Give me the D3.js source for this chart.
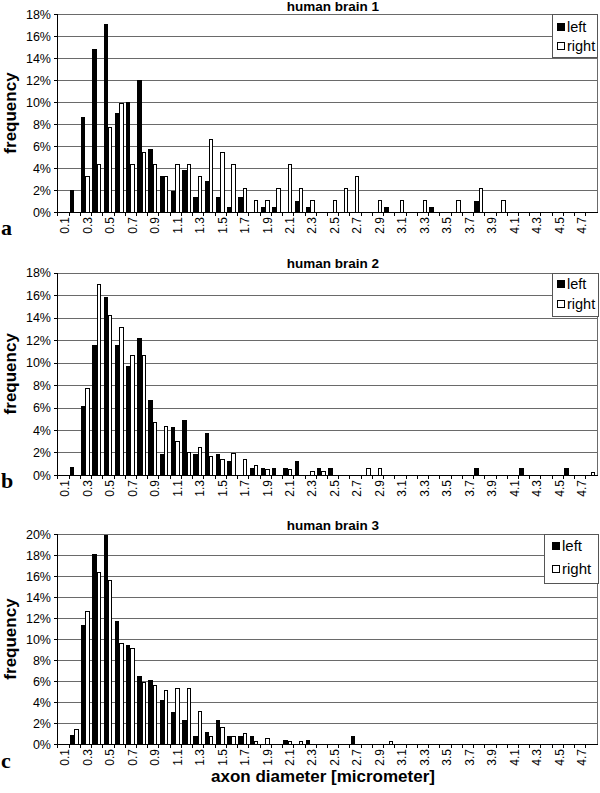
<!DOCTYPE html>
<html>
<head>
<meta charset="utf-8">
<title>Axon diameter histograms - human brain 1-3</title>
<script src="https://d3js.org/d3.v7.min.js"></script>
<style>
  body { margin: 0; background: #fff; }
  svg text { font-family: "Liberation Sans", Arial, sans-serif; fill: #000; }
</style>
</head>
<body>
<div id="chart"></div>
<script>
// x categories (axon diameter, micrometer)
var categories = ["0.1","0.2","0.3","0.4","0.5","0.6","0.7","0.8","0.9","1.0",
                  "1.1","1.2","1.3","1.4","1.5","1.6","1.7","1.8","1.9","2.0",
                  "2.1","2.2","2.3","2.4","2.5","2.6","2.7","2.8","2.9","3.0",
                  "3.1","3.2","3.3","3.4","3.5","3.6","3.7","3.8","3.9","4.0",
                  "4.1","4.2","4.3","4.4","4.5","4.6","4.7","4.8"];
var tickLabels = ["0.1","0.3","0.5","0.7","0.9","1.1","1.3","1.5","1.7","1.9","2.1","2.3",
                  "2.5","2.7","2.9","3.1","3.3","3.5","3.7","3.9","4.1","4.3","4.5","4.7"];
var seriesNames = ["left", "right"];
var titles = ["human brain 1", "human brain 2", "human brain 3"];
var letters = ["a", "b", "c"];

// frequency in %
var brain1Left  = [0, 2.0, 8.6, 14.8, 17.1, 9.0, 10.0, 12.0, 5.7, 3.3,
                   1.95, 3.8, 1.4, 2.85, 1.4, 0.45, 1.4, 0, 0.45, 0.45,
                   0, 1.0, 0.45, 0, 0, 0, 0, 0, 0, 0.45,
                   0, 0, 0, 0.45, 0, 0, 0, 1.0, 0, 0,
                   0, 0, 0, 0, 0, 0, 0, 0];
var brain1Right = [0, 0, 3.3, 4.4, 7.7, 9.9, 4.4, 5.5, 4.4, 3.3,
                   4.4, 4.4, 3.3, 6.6, 5.5, 4.4, 2.2, 1.1, 1.1, 2.2,
                   4.4, 2.2, 1.1, 0, 1.1, 2.2, 3.3, 0, 1.1, 0,
                   1.1, 0, 1.1, 0, 0, 1.1, 0, 2.2, 0, 1.1,
                   0, 0, 0, 0, 0, 0, 0, 0];
var brain2Left  = [0, 0.7, 6.1, 11.6, 15.8, 11.6, 9.7, 12.2, 6.7, 1.85,
                   4.3, 4.9, 1.85, 3.7, 1.85, 1.25, 0, 0.65, 0.65, 0.65,
                   0.65, 1.25, 0, 0.65, 0.65, 0, 0, 0, 0, 0,
                   0, 0, 0, 0, 0, 0, 0, 0.65, 0, 0,
                   0, 0.65, 0, 0, 0, 0.65, 0, 0];
var brain2Right = [0, 0, 7.7, 17.0, 14.25, 13.2, 10.7, 10.7, 4.7, 4.4,
                   3.05, 2.0, 2.5, 1.7, 1.4, 1.95, 1.4, 0.85, 0.55, 0,
                   0.55, 0, 0.35, 0.35, 0, 0, 0, 0.6, 0.6, 0,
                   0, 0, 0, 0, 0, 0, 0, 0, 0, 0,
                   0, 0, 0, 0, 0, 0, 0, 0.3];
var brain3Left  = [0, 0.85, 11.3, 18.1, 19.9, 11.7, 9.45, 6.45, 6.05, 4.2,
                   3.05, 2.25, 0.8, 1.15, 2.25, 0.8, 0.8, 0.8, 0, 0,
                   0.4, 0, 0.4, 0, 0, 0, 0.8, 0, 0, 0,
                   0, 0, 0, 0, 0, 0, 0, 0, 0, 0,
                   0, 0, 0, 0, 0, 0, 0, 0];
var brain3Right = [0, 1.45, 12.7, 16.4, 15.6, 9.6, 9.1, 5.9, 5.65, 5.1,
                   5.3, 5.3, 3.15, 0.8, 1.6, 0.8, 1.05, 0.25, 0.55, 0,
                   0.25, 0.3, 0, 0, 0, 0, 0, 0, 0, 0.3,
                   0, 0, 0, 0, 0, 0, 0, 0, 0, 0,
                   0, 0, 0, 0, 0, 0, 0, 0];
var yTicks12 = [0, 2, 4, 6, 8, 10, 12, 14, 16, 18];
var yTicks3  = [0, 2, 4, 6, 8, 10, 12, 14, 16, 18, 20];

var plotLeft = 57, plotRight = 597;

// layout of each panel (pixels)
var panels = [
  { left: brain1Left, right: brain1Right, ticks: yTicks12, top: 14, bottom: 212,
    titleY: 11, letterY: 235,
    legend: { x: 552, y: 14, w: 45, h: 43, rows: [27, 46], mx: 557, fs: 14.5 } },
  { left: brain2Left, right: brain2Right, ticks: yTicks12, top: 272.5, bottom: 475,
    titleY: 268, letterY: 488,
    legend: { x: 552, y: 272.5, w: 46, h: 43.5, rows: [284, 304], mx: 557, fs: 14.5 } },
  { left: brain3Left, right: brain3Right, ticks: yTicks3, top: 534, bottom: 744,
    titleY: 530, letterY: 768,
    legend: { x: 544, y: 534, w: 54, h: 49, rows: [545.5, 569], mx: 552, fs: 15 } }
];

var svg = d3.select("#chart").append("svg")
    .attr("width", 600)
    .attr("height", 793);

var x = d3.scaleBand()
    .domain(categories)
    .range([plotLeft, plotRight])
    .paddingInner(0.22)
    .paddingOuter(0.14);
var xs = d3.scaleBand()
    .domain(seriesNames)
    .range([0, x.bandwidth()]);
var step = x.step();

panels.forEach(function(p, k) {
  var g = svg.append("g").attr("shape-rendering", "crispEdges");
  var y = d3.scaleLinear()
      .domain([0, p.ticks[p.ticks.length - 1]])
      .range([p.bottom, p.top]);

  // gridlines + right frame
  g.selectAll("line.grid")
    .data(p.ticks)
    .enter().append("line")
      .attr("x1", plotLeft).attr("x2", plotRight)
      .attr("y1", function(d) { return Math.round(y(d)) + 0.5; })
      .attr("y2", function(d) { return Math.round(y(d)) + 0.5; })
      .attr("stroke", "#6a6a6a");
  g.append("line")
    .attr("x1", plotRight + 0.5).attr("x2", plotRight + 0.5)
    .attr("y1", y.range()[1]).attr("y2", y.range()[0])
    .attr("stroke", "#6a6a6a");

  // y axis
  g.append("line")
    .attr("x1", plotLeft + 0.5).attr("x2", plotLeft + 0.5)
    .attr("y1", y.range()[1]).attr("y2", y.range()[0])
    .attr("stroke", "#000");
  g.selectAll("line.ytick")
    .data(p.ticks)
    .enter().append("line")
      .attr("x1", plotLeft - 3).attr("x2", plotLeft)
      .attr("y1", function(d) { return Math.round(y(d)) + 0.5; })
      .attr("y2", function(d) { return Math.round(y(d)) + 0.5; })
      .attr("stroke", "#000");
  svg.selectAll(null)
    .data(p.ticks)
    .enter().append("text")
      .attr("x", 51)
      .attr("y", function(d) { return y(d); })
      .attr("dy", "0.36em")
      .attr("text-anchor", "end")
      .style("font-size", "12.5px")
      .text(function(d) { return d + "%"; });

  // bars
  var rows = categories.map(function(c, i) {
    return { cat: c, left: p.left[i], right: p.right[i] };
  });
  g.selectAll("rect.l")
    .data(rows.filter(function(d) { return d.left > 0; }))
    .enter().append("rect")
      .attr("x", function(d) { return Math.round(x(d.cat) + xs("left")); })
      .attr("y", function(d) { return Math.round(y(d.left)); })
      .attr("width", function(d) { return Math.round(x(d.cat) + xs("right")) - Math.round(x(d.cat) + xs("left")); })
      .attr("height", function(d) { return Math.round(y(0)) - Math.round(y(d.left)); })
      .attr("fill", "#000");
  g.selectAll("rect.r")
    .data(rows.filter(function(d) { return d.right > 0; }))
    .enter().append("rect")
      .attr("x", function(d) { return Math.round(x(d.cat) + xs("right")) + 0.5; })
      .attr("y", function(d) { return Math.round(y(d.right)) + 0.5; })
      .attr("width", function(d) { return Math.round(x(d.cat) + x.bandwidth()) - Math.round(x(d.cat) + xs("right")) - 1; })
      .attr("height", function(d) { return Math.max(0, Math.round(y(0)) - Math.round(y(d.right)) - 0.5); })
      .attr("fill", "#fff")
      .attr("stroke", "#000");

  // x axis
  g.append("line")
    .attr("x1", plotLeft).attr("x2", plotRight + 1)
    .attr("y1", Math.round(y(0)) + 0.5).attr("y2", Math.round(y(0)) + 0.5)
    .attr("stroke", "#000");
  g.selectAll("line.xtick")
    .data(categories)
    .enter().append("line")
      .attr("x1", function(d) { return Math.round(x(d) - step * 0.11) + 0.5; })
      .attr("x2", function(d) { return Math.round(x(d) - step * 0.11) + 0.5; })
      .attr("y1", Math.round(y(0))).attr("y2", Math.round(y(0)) + 4)
      .attr("stroke", "#000");
  svg.selectAll(null)
    .data(tickLabels)
    .enter().append("text")
      .attr("transform", function(d) {
        return "translate(" + (x(d) + x.bandwidth() / 2 + 2) + "," + (y(0) + 5) + ")rotate(-90)";
      })
      .attr("dy", "0.36em")
      .attr("text-anchor", "end")
      .style("font-size", "12px")
      .text(function(d) { return d; });

  // title
  svg.append("text")
    .attr("x", 333).attr("y", p.titleY)
    .attr("text-anchor", "middle")
    .style("font-size", "13.5px")
    .style("font-weight", "bold")
    .text(titles[k]);

  // y axis label
  svg.append("text")
    .attr("transform", "translate(16," + ((p.top + p.bottom) / 2) + ")rotate(-90)")
    .attr("text-anchor", "middle")
    .style("font-size", "17px")
    .style("font-weight", "bold")
    .text("frequency");

  // panel letter
  svg.append("text")
    .attr("x", 1).attr("y", p.letterY)
    .style("font-family", "'Liberation Serif', 'Times New Roman', serif")
    .style("font-size", "22px")
    .style("font-weight", "bold")
    .text(letters[k]);

  // legend
  var L = p.legend;
  var lg = svg.append("g");
  lg.append("rect")
    .attr("x", L.x + 0.5).attr("y", L.y + 0.5)
    .attr("width", L.w).attr("height", L.h)
    .attr("fill", "#fff")
    .attr("stroke", "#555")
    .attr("shape-rendering", "crispEdges");
  seriesNames.forEach(function(s, j) {
    lg.append("rect")
      .attr("x", L.mx + 0.5).attr("y", L.rows[j] - 3.5)
      .attr("width", 7).attr("height", 7)
      .attr("fill", s === "left" ? "#000" : "#fff")
      .attr("stroke", "#000")
      .attr("shape-rendering", "crispEdges");
    lg.append("text")
      .attr("x", L.mx + 10).attr("y", L.rows[j])
      .attr("dy", "0.36em")
      .style("font-size", L.fs + "px")
      .text(s);
  });
});

// x axis title
svg.append("text")
  .attr("x", 323).attr("y", 782)
  .attr("text-anchor", "middle")
  .style("font-size", "17px")
  .style("font-weight", "bold")
  .text("axon diameter [micrometer]");
</script>
</body>
</html>
